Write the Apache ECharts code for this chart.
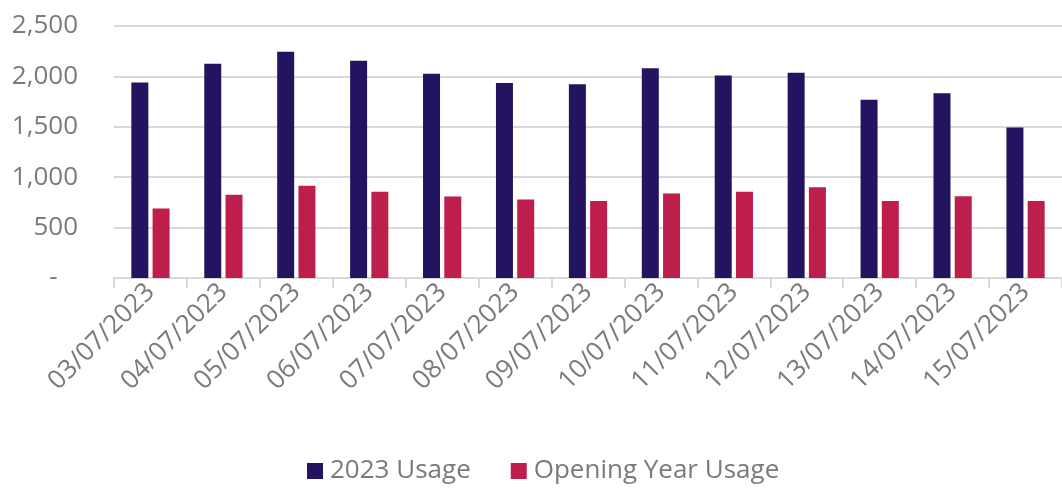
<!DOCTYPE html>
<html>
<head>
<meta charset="utf-8">
<script src="https://cdn.jsdelivr.net/npm/echarts@6/dist/echarts.min.js"></script>
<style>
  html, body { margin: 0; padding: 0; background: #fff; }
  #chart { width: 1062px; height: 489px; }
</style>
</head>
<body>
<div id="chart"></div>
<script>
const dates = ["03/07/2023", "04/07/2023", "05/07/2023", "06/07/2023", "07/07/2023", "08/07/2023",
  "09/07/2023", "10/07/2023", "11/07/2023", "12/07/2023", "13/07/2023", "14/07/2023", "15/07/2023"];
const usage2023 = [1940, 2125, 2245, 2155, 2027, 1934, 1921, 2082, 2010, 2037, 1769, 1832, 1492];
const openingYear = [690, 825, 914, 855, 809, 779, 765, 839, 855, 901, 765, 812, 765];
const yTicks = [0, 500, 1000, 1500, 2000, 2500];

const textColor = "#7a7a7a";
const font = "'Open Sans', 'Noto Sans', sans-serif";

let chart = echarts.init(document.getElementById("chart"));
let option = {
  animation: false,
  textStyle: { fontFamily: font },
  grid: { left: 114, width: 955, top: 26, bottom: 211 },
  legend: {
    bottom: 0,
    left: 302,
    itemWidth: 16,
    itemHeight: 16,
    itemGap: 40,
    icon: "rect",
    textStyle: { color: textColor, fontSize: 26, fontFamily: font, padding: [0, 0, 0, 2] },
    data: ["2023 Usage", "Opening Year Usage"],
  },
  xAxis: {
    type: "category",
    data: dates,
    axisLine: { lineStyle: { color: "#d9d9d9", width: 2 } },
    axisTick: { show: true, length: 10, lineStyle: { color: "#d9d9d9", width: 2 } },
    axisLabel: { rotate: 45, color: textColor, fontSize: 26, margin: 10, fontFamily: font },
  },
  yAxis: {
    type: "value",
    min: yTicks[0],
    max: yTicks[yTicks.length - 1],
    interval: 500,
    axisLine: { show: false },
    axisTick: { show: false },
    splitLine: { lineStyle: { color: "#d9d9d9", width: 2 } },
    axisLabel: {
      color: textColor,
      fontSize: 26,
      margin: 36,
      fontFamily: font,
      formatter: function (v) {
        return v === 0 ? "-   " : v.toLocaleString("en-US");
      },
    },
  },
  series: [
    {
      name: "2023 Usage",
      type: "bar",
      data: usage2023,
      itemStyle: { color: "#24135f" },
      barWidth: 17,
      barGap: "25%",
    },
    {
      name: "Opening Year Usage",
      type: "bar",
      data: openingYear,
      itemStyle: { color: "#be1e4b" },
      barWidth: 17,
      barGap: "25%",
    },
  ],
};
option && chart.setOption(option);
</script>
</body>
</html>
